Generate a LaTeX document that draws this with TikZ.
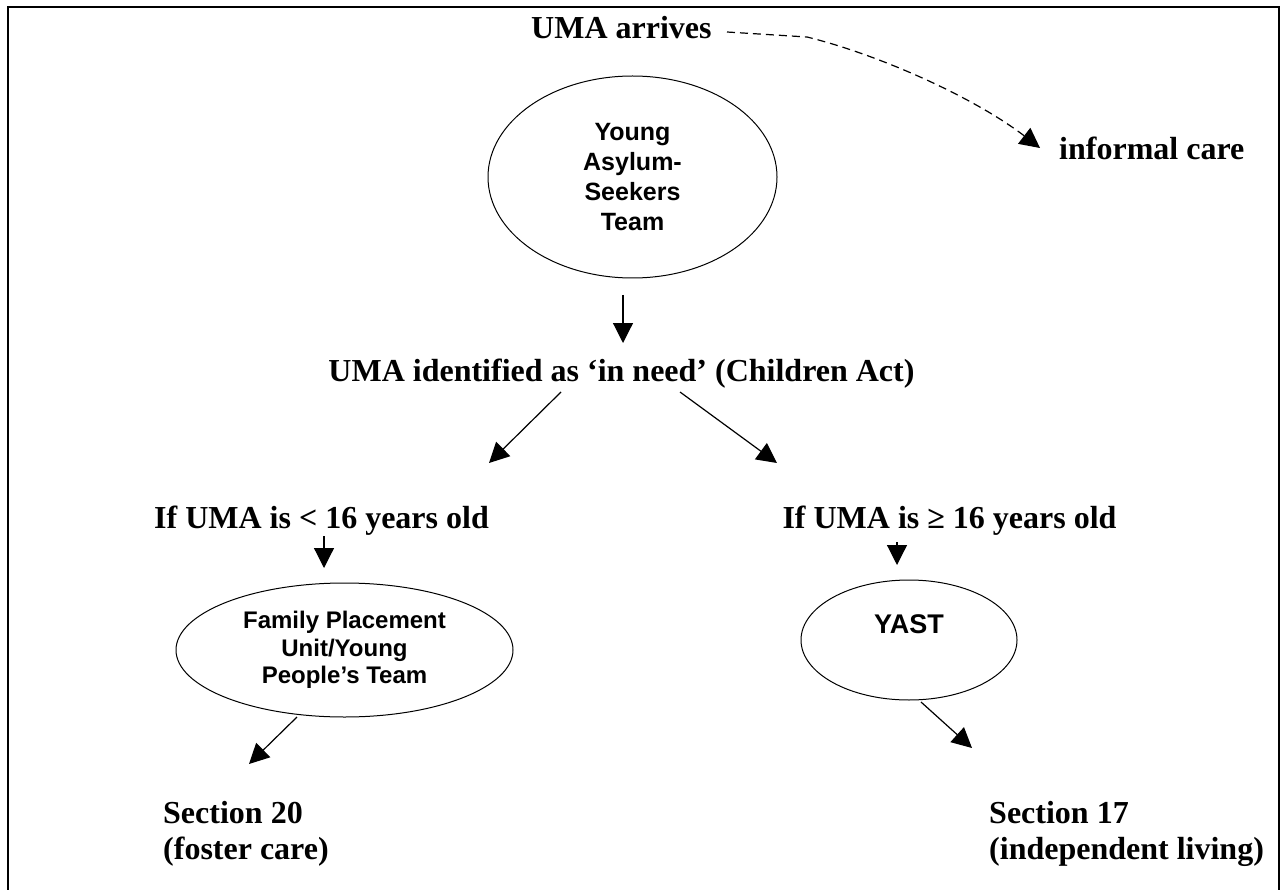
\documentclass[tikz,border=0pt]{standalone}
\usepackage{fontspec}
\setmainfont{Liberation Serif}
\newfontfamily\sansb{Liberation Sans}
\usetikzlibrary{arrows.meta,shapes.geometric}
\begin{document}
\begin{tikzpicture}[x=1pt,y=-1pt,
  lbl/.style={font=\fontsize{32}{36}\selectfont\bfseries, inner sep=0pt},
  oval/.style={draw, ellipse, line width=1pt, inner sep=0pt, align=center},
  arr/.style={-{Triangle[length=20pt,width=20pt]}, line width=1.2pt},
  dasharr/.style={arr, dash pattern=on 8pt off 5pt},
]
\useasboundingbox (0,0) rectangle (1281,890);
\draw[line width=1.5pt] (8,890) -- (8,7) -- (1279,7) -- (1279,890);

% text labels
\node[lbl, anchor=base west] (arrive) at (531,39) {UMA arrives};
\node[lbl, anchor=base west] (informal) at (1059,160) {informal care};
\node[lbl, anchor=base] (need) at (621.5,381) {UMA identified as ‘in need’ (Children Act)};
\node[lbl, anchor=base] (lt16) at (321.5,528) {If UMA is < 16 years old};
\node[lbl, anchor=base] (ge16) at (949.5,528) {If UMA is ≥ 16 years old};
\node[lbl, anchor=base west, align=left] (s20) at (163,859) {Section 20\\(foster care)};
\node[lbl, anchor=base west, align=left] (s17) at (989,859) {Section 17\\(independent living)};

% ellipses
\node[oval, minimum width=289pt, minimum height=202pt,
      font=\sansb\bfseries\fontsize{25}{30}\selectfont] (yst) at (632.5,177)
      {Young\\Asylum-\\Seekers\\Team};
\node[oval, minimum width=337pt, minimum height=134pt,
      font=\sansb\bfseries\fontsize{24}{27.5}\selectfont] (fpu) at (344.5,650)
      {Family Placement\\Unit/Young\\People’s Team};
\node[oval, minimum width=216pt, minimum height=120pt,
      font=\sansb\bfseries\fontsize{27}{32}\selectfont] (yast) at (909,640)
      {YAST\\[-10pt]\strut};

% connector end points
\coordinate (a0s) at (727,32);
\coordinate (a0e) at (1040,148);
\coordinate (a1s) at (623,295);
\coordinate (a1e) at (623,343);
\coordinate (a2s) at (561,392);
\coordinate (a2e) at (489,463);
\coordinate (a3s) at (680,392);
\coordinate (a3e) at (777,463);
\coordinate (a4s) at (324,536);
\coordinate (a4e) at (324,568);
\coordinate (a5s) at (897,542);
\coordinate (a5e) at (897,565);
\coordinate (a6s) at (297,717);
\coordinate (a6e) at (249,764);
\coordinate (a7s) at (921,702);
\coordinate (a7e) at (972,748);

% connectors
\draw[dasharr] (a0s) -- (807,37) .. controls (880,55) and (975,98) .. (a0e);
\draw[arr] (a1s) -- (a1e);
\draw[arr] (a2s) -- (a2e);
\draw[arr] (a3s) -- (a3e);
\draw[arr] (a4s) -- (a4e);
\draw[arr] (a5s) -- (a5e);
\draw[arr] (a6s) -- (a6e);
\draw[arr] (a7s) -- (a7e);
\end{tikzpicture}
\end{document}
